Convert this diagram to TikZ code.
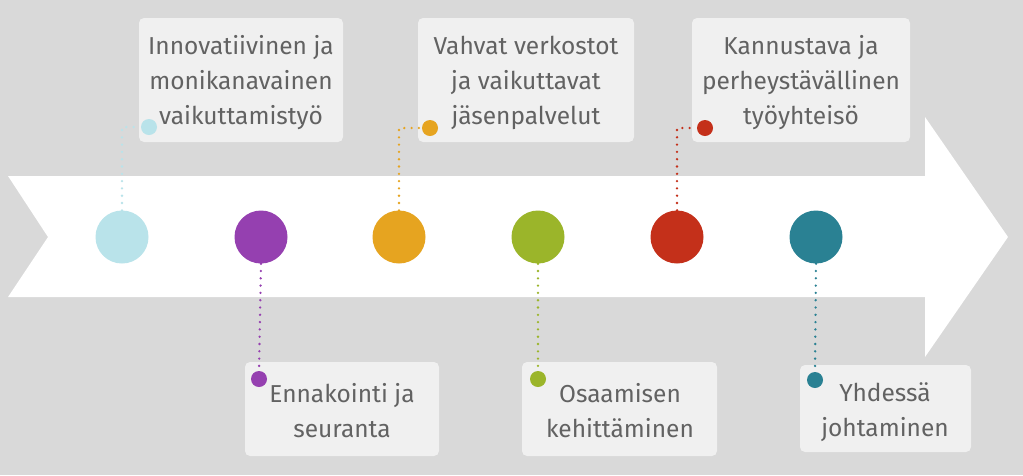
\documentclass[tikz,border=0pt]{standalone}
\usepackage{fontspec}
\setmainfont{Fira Sans}
\begin{document}
\begin{tikzpicture}[x=1pt,y=-1pt,
  bigdot/.style={circle,minimum size=53pt,inner sep=0pt,fill=#1},
  smalldot/.style={circle,minimum size=16pt,inner sep=0pt,fill=#1},
  box/.style={fill=boxc,rounded corners=5pt,draw=none},
  lbl/.style={text=txt,align=center,font=\fontsize{24.5}{35}\selectfont,inner sep=0pt},
  link/.style={draw=#1,line width=2.6pt,line cap=round,dash pattern=on 0pt off 7.3pt}]
\definecolor{bg}{HTML}{D9D9D9}
\definecolor{boxc}{HTML}{F0F0F0}
\definecolor{txt}{HTML}{626262}
\definecolor{cA}{HTML}{B9E3EA}
\definecolor{cB}{HTML}{9540B0}
\definecolor{cC}{HTML}{E6A420}
\definecolor{cD}{HTML}{9BB52A}
\definecolor{cE}{HTML}{C4301A}
\definecolor{cF}{HTML}{2A8193}
\useasboundingbox (0,0) rectangle (1023,475);
\fill[bg] (0,0) rectangle (1023,475);
% arrow
\fill[white] (8,176) -- (925,176) -- (925,117) -- (1008,237) -- (925,357) -- (925,297) -- (8,297) -- (48,237) -- cycle;
% boxes
\fill[box] (139,18) rectangle (343,142);
\fill[box] (418,18) rectangle (634,142);
\fill[box] (692,18) rectangle (910,142);
\fill[box] (245,362) rectangle (439,456);
\fill[box] (522,362) rectangle (717,456);
\fill[box] (800,365) rectangle (971,452);
% labels
\node[lbl] (tA) at (241,83) {Innovatiivinen ja\\monikanavainen\\vaikuttamistyö};
\node[lbl] (tC) at (526,83) {Vahvat verkostot\\ja vaikuttavat\\jäsenpalvelut};
\node[lbl] (tE) at (801,83) {Kannustava ja\\perheystävällinen\\työyhteisö};
\node[lbl] (tB) at (342,411) {Ennakointi ja\\seuranta};
\node[lbl] (tD) at (620,411) {Osaamisen\\kehittäminen};
\node[lbl] (tF) at (885,412) {Yhdessä\\johtaminen};
% big circles
\node[bigdot=cA] (A) at (122,237) {};
\node[bigdot=cB] (B) at (261,237) {};
\node[bigdot=cC] (C) at (399,237) {};
\node[bigdot=cD] (D) at (538,237) {};
\node[bigdot=cE] (E) at (677,237) {};
\node[bigdot=cF] (F) at (816,237) {};
% small dots
\node[smalldot=cA] (a) at (149,127) {};
\node[smalldot=cC] (c) at (430,128) {};
\node[smalldot=cE] (e) at (705,128) {};
\node[smalldot=cB] (b) at (259,379) {};
\node[smalldot=cD] (d) at (538,379) {};
\node[smalldot=cF] (f) at (815,380) {};
% connectors
\draw[link=cA] (A.north) |- (a.west);
\draw[link=cC] (C.north) |- (c.west);
\draw[link=cE] (E.north) |- (e.west);
\draw[link=cB] (B.south) -- (b.north);
\draw[link=cD] (D.south) -- (d.north);
\draw[link=cF] (F.south) -- (f.north);
\end{tikzpicture}
\end{document}
